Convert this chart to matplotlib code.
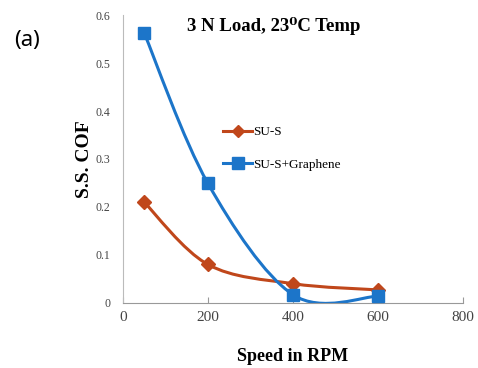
import numpy as np
import matplotlib
matplotlib.use("Agg")
import matplotlib.pyplot as plt
from matplotlib.path import Path
from matplotlib.patches import PathPatch
from matplotlib.lines import Line2D

speed = [50, 200, 400, 600]
sus = [0.21, 0.08, 0.04, 0.027]
sus_graphene = [0.563, 0.249, 0.017, 0.014]
series_names = ["SU-S", "SU-S+Graphene"]
xticks = [0, 200, 400, 600, 800]
yticks = [0, 0.1, 0.2, 0.3, 0.4, 0.5, 0.6]

c_red = "#C0471B"
c_blue = "#1C75C9"

plt.rcParams['font.family'] = ['Liberation Serif', 'DejaVu Serif']

fig = plt.figure(figsize=(4.78, 3.68), dpi=100)
ax = fig.add_axes([0.257, 0.177, 0.712, 0.782])


def smooth_path(ax, xs, ys, color):
    xs = np.asarray(xs, float)
    ys = np.asarray(ys, float)
    verts = [(xs[0], ys[0])]
    codes = [Path.MOVETO]
    n = len(xs)
    for i in range(n - 1):
        p0 = np.array([xs[max(i - 1, 0)], ys[max(i - 1, 0)]])
        p1 = np.array([xs[i], ys[i]])
        p2 = np.array([xs[i + 1], ys[i + 1]])
        p3 = np.array([xs[min(i + 2, n - 1)], ys[min(i + 2, n - 1)]])
        c1 = p1 + (p2 - p0) / 6.0
        c2 = p2 - (p3 - p1) / 6.0
        verts += [tuple(c1), tuple(c2), tuple(p2)]
        codes += [Path.CURVE4] * 3
    patch = PathPatch(Path(verts, codes), facecolor='none', edgecolor=color, lw=2.2,
                      transform=ax.transData, zorder=2)
    ax.add_patch(patch)

smooth_path(ax, speed, sus, c_red)
smooth_path(ax, speed, sus_graphene, c_blue)
ax.plot(speed, sus, ls='none', marker='D', ms=7, color=c_red, zorder=3)
ax.plot(speed, sus_graphene, ls='none', marker='s', ms=9, color=c_blue, zorder=3)

ax.set_xlim(0, 800)
ax.set_ylim(0, 0.6)
ax.set_xticks(xticks)
ax.set_yticks(yticks)
ax.set_yticklabels([("%g" % v) for v in yticks])
for s in ['top', 'right']:
    ax.spines[s].set_visible(False)
ax.spines['left'].set_color('#BBBBBB')
ax.spines['bottom'].set_color('#999999')
ax.tick_params(axis='y', length=0, labelsize=8.5, labelcolor='#444444', pad=9)
ax.tick_params(axis='x', length=4, direction='in', colors='#999999', labelsize=11,
               labelcolor='#444444', pad=6)

ax.set_xlabel("Speed in RPM", fontsize=13, fontweight='bold', labelpad=17)
ax.set_ylabel("S.S. COF", fontsize=14, fontweight='bold', labelpad=2)

fig.text(0.573, 0.93, "3 N Load, 23\u2070C Temp", fontsize=13.5, fontweight='bold',
         ha='center', va='center', family=['Liberation Serif', 'DejaVu Serif'])
fig.text(0.03, 0.89, "(a)", fontsize=16, family=['Noto Sans', 'DejaVu Sans'],
         ha='left', va='center')

handles = [Line2D([], [], color=c_red, lw=2.2, marker='D', ms=6),
           Line2D([], [], color=c_blue, lw=2.2, marker='s', ms=8)]
leg = ax.legend(handles, series_names, loc='upper left', bbox_to_anchor=(0.26, 0.655),
                frameon=False, fontsize=9.5, handlelength=2.2, handletextpad=0.1,
                labelspacing=1.5)

fig.savefig("out.png", dpi=100)
